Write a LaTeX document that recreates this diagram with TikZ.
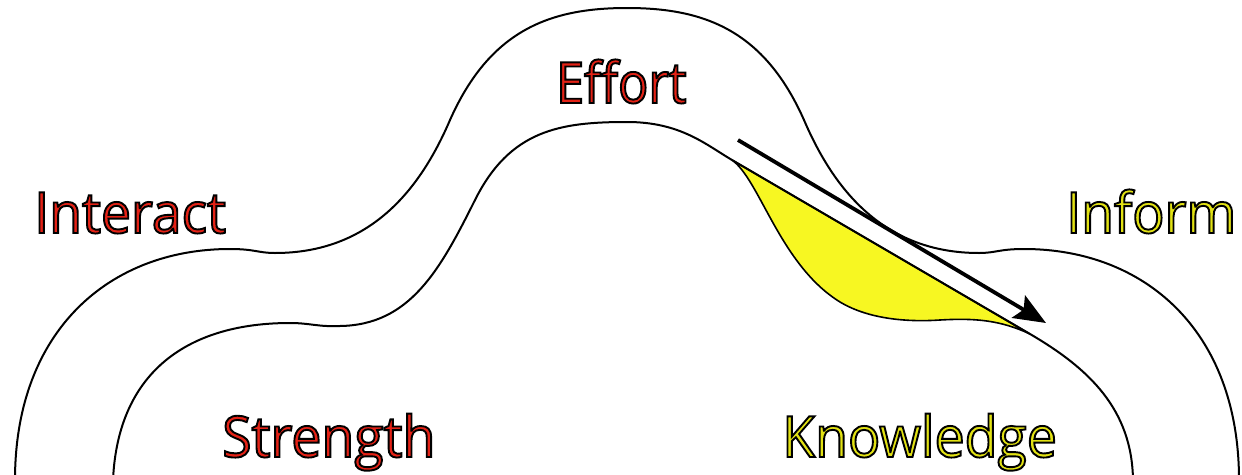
\documentclass[tikz,border=0pt]{standalone}
\usepackage{fontspec}
\usetikzlibrary{arrows.meta}
\newfontfamily\lblfont[FakeStretch=0.94]{Open Sans}
\newfontfamily\lblfontn[FakeStretch=0.88]{Open Sans}
\definecolor{lred}{RGB}{228,34,22}
\definecolor{lyel}{RGB}{226,226,20}
\definecolor{fyel}{RGB}{247,247,34}
\newcommand\olabel[2]{\textcolor{#1}{\special{pdf:code 0 G 1.9 w 2 Tr}#2\special{pdf:code 0 Tr}}}
\tikzset{
  curve/.style={draw=black, line width=2pt},
  lbl/.style={inner sep=0pt, font=\lblfont\fontsize{57}{60}\selectfont},
  lbln/.style={inner sep=0pt, font=\lblfontn\fontsize{57}{60}\selectfont},
}
\begin{document}
\begin{tikzpicture}[x=1pt,y=-1pt]
\useasboundingbox (0,0) rectangle (1242,474);
% outer boundary
\draw[curve] (15,480) .. controls (15,330) and (110,249) .. (230,249)
  .. controls (255,249) and (258,253) .. (275,253)
  .. controls (370,253) and (420,190) .. (450,120)
  .. controls (490,30) and (550,8) .. (627,8)
  .. controls (704,8) and (764,30) .. (804,120)
  .. controls (834,190) and (884,253) .. (979,253)
  .. controls (996,253) and (999,249) .. (1024,249)
  .. controls (1144,249) and (1239,330) .. (1239,480);
% yellow region
\fill[fyel, draw=black, line width=1.6pt] (732,160) .. controls (760,180) and (780,265) .. (840,302)
  .. controls (870,320) and (910,322) .. (940,320)
  .. controls (975,318) and (1000,320) .. (1030,334) -- cycle;
% inner boundary
\draw[curve] (113,480) .. controls (118,370) and (190,323) .. (290,323)
  .. controls (310,323) and (318,327) .. (340,326)
  .. controls (410,325) and (440,270) .. (475,200)
  .. controls (510,130) and (560,122) .. (627,122)
  .. controls (680,122) and (705,144) .. (732,160)
  -- (1030,334)
  .. controls (1090,369) and (1132,410) .. (1133,480);
% arrow
\coordinate (as) at (738,140);
\coordinate (ae) at (1046,323);
\draw[line width=3.8pt, -{Stealth[length=32pt,width=26pt,inset=6pt]}] (as) -- (ae);
% labels
\node[lbln, anchor=base west] (effort) at (556,103) {\olabel{lred}{Effort}};
\node[lbl, anchor=base west] (interact) at (34,233) {\olabel{lred}{Interact}};
\node[lbl, anchor=base west] (inform) at (1066,233) {\olabel{lyel}{Inform}};
\node[lbl, anchor=base west] (strength) at (222,457) {\olabel{lred}{Strength}};
\node[lbl, anchor=base west] (knowledge) at (782,457) {\olabel{lyel}{Knowledge}};
\end{tikzpicture}
\end{document}
